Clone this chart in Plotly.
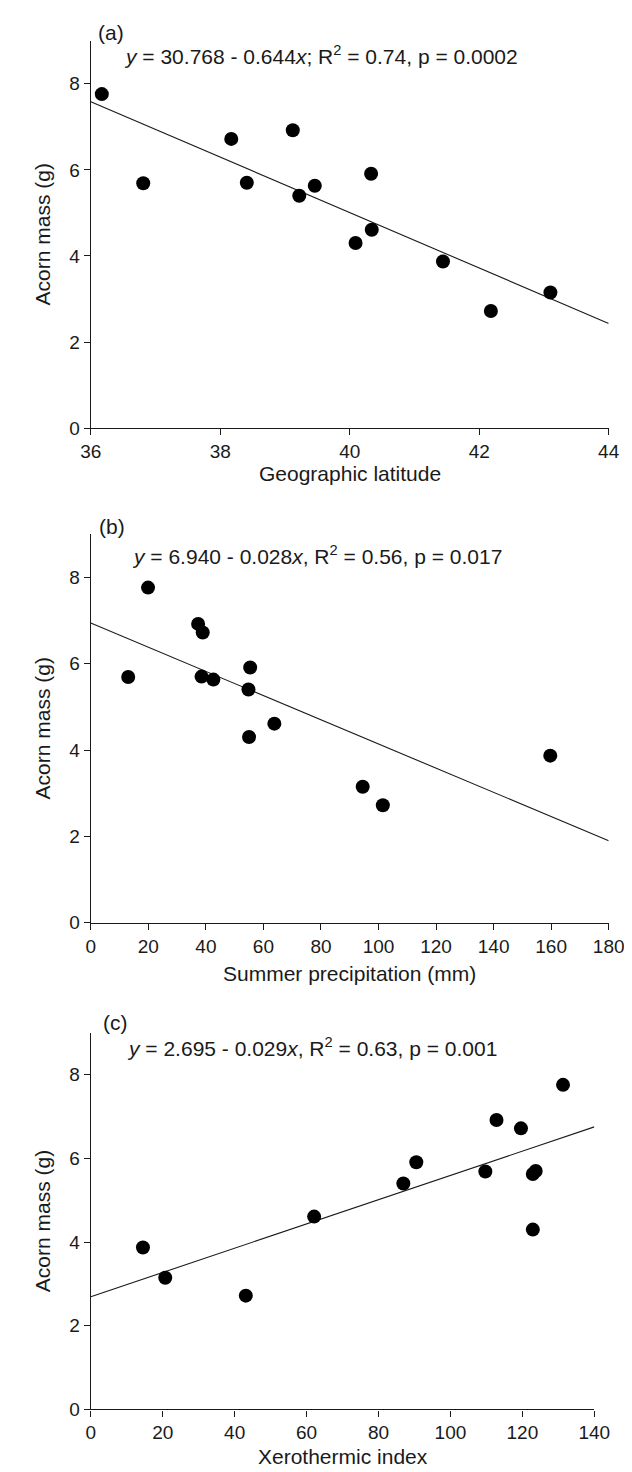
import plotly.graph_objects as go

# ---- data ----
acorn_mass = [7.76, 5.69, 6.72, 5.70, 6.92, 5.40, 5.63, 5.91, 4.30, 4.61, 3.87, 2.72, 3.15]
latitude = [36.17, 36.81, 38.17, 38.41, 39.12, 39.22, 39.46, 40.33, 40.09, 40.34, 41.44, 42.18, 43.10]
summer_precip = [19.9, 13.0, 38.9, 38.5, 37.3, 54.8, 42.6, 55.4, 55.0, 63.8, 159.7, 101.5, 94.5]
xerothermic = [131.3, 109.7, 119.6, 123.7, 112.8, 86.9, 122.9, 90.5, 122.9, 62.1, 14.5, 43.1, 20.7]

# regression coefficients (intercept, slope) and line x-extent
fit_a = (30.768, -0.644)
fit_b = (6.940, -0.028)
fit_c = (2.695, 0.029)
range_a = [36, 44]
range_b = [0, 180]
range_c = [0, 140]

labels = ["(a)", "(b)", "(c)"]
equations = [
    "<i>y</i> = 30.768 - 0.644<i>x</i>; R<sup>2</sup> = 0.74, p = 0.0002",
    "<i>y</i> = 6.940 - 0.028<i>x</i>, R<sup>2</sup> = 0.56, p = 0.017",
    "<i>y</i> = 2.695 - 0.029<i>x</i>, R<sup>2</sup> = 0.63, p = 0.001",
]
x_titles = ["Geographic latitude", "Summer precipitation (mm)", "Xerothermic index"]
y_title = "Acorn mass (g)"

W, H = 632, 1472
FONT = "Liberation Sans, Arial, sans-serif"
INK = "#1a1a1a"

fig = go.Figure()

panels = [
    (latitude, fit_a, range_a, "x", "y"),
    (summer_precip, fit_b, range_b, "x2", "y2"),
    (xerothermic, fit_c, range_c, "x3", "y3"),
]
for xs, (b0, b1), xr, xa, ya in panels:
    fig.add_trace(go.Scatter(
        x=xr, y=[b0 + b1 * v for v in xr], mode="lines",
        line=dict(color=INK, width=1.1), xaxis=xa, yaxis=ya, showlegend=False,
        hoverinfo="skip"))
    fig.add_trace(go.Scatter(
        x=xs, y=acorn_mass, mode="markers",
        marker=dict(color="black", size=14, line=dict(width=0)),
        xaxis=xa, yaxis=ya, showlegend=False))


def px_x(p):
    return p / W


def px_y(p):
    return 1 - p / H


doms = [
    dict(x=(75, 616), y=(33, 423.3)),
    dict(x=(75, 616), y=(530, 921.7)),
    dict(x=(75, 601), y=(1032.7, 1412)),
]

axis_common = dict(
    showline=True, linecolor=INK, linewidth=1.3, ticks="outside", ticklen=6,
    tickwidth=1.3, tickcolor=INK, showgrid=False, zeroline=False,
    tickfont=dict(family=FONT, size=19, color=INK), mirror=False)

layout = dict(
    width=W, height=H, margin=dict(l=0, r=0, t=0, b=0),
    paper_bgcolor="white", plot_bgcolor="white", showlegend=False,
    font=dict(family=FONT, color=INK),
)
xranges = [range_a, range_b, range_c]
for i, d in enumerate(doms):
    sx = "" if i == 0 else str(i + 1)
    layout["xaxis" + sx] = dict(
        axis_common, domain=[px_x(d["x"][0]), px_x(d["x"][1])],
        range=xranges[i], dtick=2 if i == 0 else 20, tick0=0,
        anchor="y" + sx)
    layout["yaxis" + sx] = dict(
        axis_common, domain=[px_y(d["y"][1]), px_y(d["y"][0])],
        range=[0, 9], dtick=2, tick0=0, anchor="x" + sx)

fig.update_layout(**layout)

annos = []
label_pos = [(80, 25), (82, 522), (86, 1022)]
eq_pos = [(108, 47), (116, 551), (111, 1047)]
xtitle_y = [469, 973, 1459]
for i, d in enumerate(doms):
    annos.append(dict(text=labels[i], x=px_x(label_pos[i][0]), y=px_y(label_pos[i][1]),
                      xref="paper", yref="paper", xanchor="left", yanchor="middle",
                      showarrow=False, font=dict(family=FONT, size=21, color=INK)))
    annos.append(dict(text=equations[i], x=px_x(eq_pos[i][0]), y=px_y(eq_pos[i][1]),
                      xref="paper", yref="paper", xanchor="left", yanchor="middle",
                      showarrow=False, font=dict(family=FONT, size=21, color=INK)))
    annos.append(dict(text=x_titles[i], x=px_x((d["x"][0] + d["x"][1]) / 2),
                      y=px_y(xtitle_y[i]), xref="paper", yref="paper",
                      xanchor="center", yanchor="middle", showarrow=False,
                      font=dict(family=FONT, size=21, color=INK)))
    annos.append(dict(text=y_title, x=px_x(24), y=px_y((d["y"][0] + d["y"][1]) / 2),
                      xref="paper", yref="paper", xanchor="center", yanchor="middle",
                      textangle=-90, showarrow=False,
                      font=dict(family=FONT, size=21, color=INK)))
fig.update_layout(annotations=annos)

fig.write_html("out.html")
